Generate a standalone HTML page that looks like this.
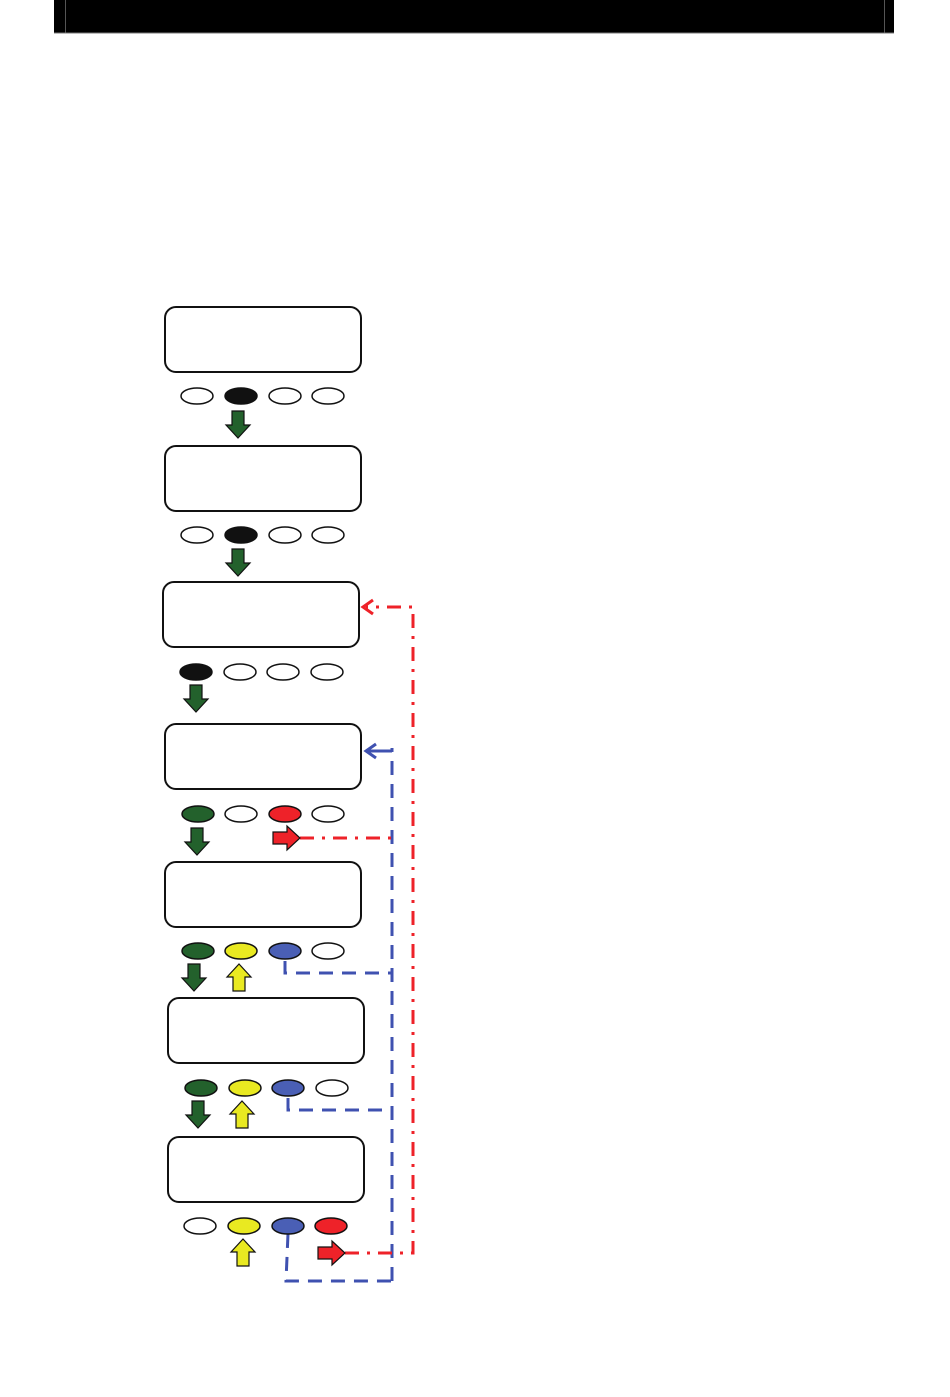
<!DOCTYPE html>
<html><head><meta charset="utf-8"><style>
html,body{margin:0;padding:0;background:#fff;}
svg{display:block;}
</style></head><body>
<svg width="950" height="1397" viewBox="0 0 950 1397" xmlns="http://www.w3.org/2000/svg">
<defs>
<path id="dn" d="M-6,0 H6 V14 H12 L0,27 L-12,14 H-6 Z"/>
<path id="up" d="M-6,27 H6 V13 H12 L0,0 L-12,13 H-6 Z"/>
<path id="rt" d="M0,-6 V6 H14 V12 L27,0 L14,-12 V-6 Z"/>
</defs>
<rect x="54" y="0" width="840" height="33" fill="#000"/>
<line x1="65.5" y1="0" x2="65.5" y2="33" stroke="#555" stroke-width="1"/>
<line x1="884.5" y1="0" x2="884.5" y2="33" stroke="#555" stroke-width="1"/>
<line x1="54" y1="33" x2="894" y2="33" stroke="#777" stroke-width="1"/>

<g fill="#fff" stroke="#111" stroke-width="2">
<rect x="165" y="307" width="196" height="65" rx="11"/>
<rect x="165" y="446" width="196" height="65" rx="11"/>
<rect x="163" y="582" width="196" height="65" rx="11"/>
<rect x="165" y="724" width="196" height="65" rx="11"/>
<rect x="165" y="862" width="196" height="65" rx="11"/>
<rect x="168" y="998" width="196" height="65" rx="11"/>
<rect x="168" y="1137" width="196" height="65" rx="11"/>
</g>

<!-- dashed connectors -->
<g fill="none" stroke-width="3">
<path d="M285,961 V973 H392" stroke="#3f51b0" stroke-dasharray="14,9"/>
<path d="M288,1098 V1110 H392" stroke="#3f51b0" stroke-dasharray="14,9"/>
<path d="M288,1234 L286,1281 H392" stroke="#3f51b0" stroke-dasharray="14,9"/>
<path d="M392,1281 V748" stroke="#3f51b0" stroke-dasharray="14,9"/>
<path d="M392,751 H368" stroke="#3f51b0"/>
<path d="M300,838 H395" stroke="#ee2229" stroke-dasharray="14,8,3,8"/>
<path d="M345,1253 H413 V607 H366" stroke="#ee2229" stroke-dasharray="14,8,3,8"/>
</g>
<path d="M376,744 L366,751 L376,758" fill="none" stroke="#3f51b0" stroke-width="3"/>
<path d="M373,600 L363,607 L373,614" fill="none" stroke="#ee2229" stroke-width="3"/>

<g stroke="#111" stroke-width="1.5">
<ellipse cx="197" cy="396" rx="16" ry="8" fill="#fff"/>
<ellipse cx="241" cy="396" rx="16" ry="8" fill="#111"/>
<ellipse cx="285" cy="396" rx="16" ry="8" fill="#fff"/>
<ellipse cx="328" cy="396" rx="16" ry="8" fill="#fff"/>

<ellipse cx="197" cy="535" rx="16" ry="8" fill="#fff"/>
<ellipse cx="241" cy="535" rx="16" ry="8" fill="#111"/>
<ellipse cx="285" cy="535" rx="16" ry="8" fill="#fff"/>
<ellipse cx="328" cy="535" rx="16" ry="8" fill="#fff"/>

<ellipse cx="196" cy="672" rx="16" ry="8" fill="#111"/>
<ellipse cx="240" cy="672" rx="16" ry="8" fill="#fff"/>
<ellipse cx="283" cy="672" rx="16" ry="8" fill="#fff"/>
<ellipse cx="327" cy="672" rx="16" ry="8" fill="#fff"/>

<ellipse cx="198" cy="814" rx="16" ry="8" fill="#23612c"/>
<ellipse cx="241" cy="814" rx="16" ry="8" fill="#fff"/>
<ellipse cx="285" cy="814" rx="16" ry="8" fill="#ee2229"/>
<ellipse cx="328" cy="814" rx="16" ry="8" fill="#fff"/>

<ellipse cx="198" cy="951" rx="16" ry="8" fill="#23612c"/>
<ellipse cx="241" cy="951" rx="16" ry="8" fill="#e9e921"/>
<ellipse cx="285" cy="951" rx="16" ry="8" fill="#4a5fb5"/>
<ellipse cx="328" cy="951" rx="16" ry="8" fill="#fff"/>

<ellipse cx="201" cy="1088" rx="16" ry="8" fill="#23612c"/>
<ellipse cx="245" cy="1088" rx="16" ry="8" fill="#e9e921"/>
<ellipse cx="288" cy="1088" rx="16" ry="8" fill="#4a5fb5"/>
<ellipse cx="332" cy="1088" rx="16" ry="8" fill="#fff"/>

<ellipse cx="200" cy="1226" rx="16" ry="8" fill="#fff"/>
<ellipse cx="244" cy="1226" rx="16" ry="8" fill="#e9e921"/>
<ellipse cx="288" cy="1226" rx="16" ry="8" fill="#4a5fb5"/>
<ellipse cx="331" cy="1226" rx="16" ry="8" fill="#ee2229"/>
</g>

<g stroke="#111" stroke-width="1.2" stroke-linejoin="miter">
<use href="#dn" x="238" y="411" fill="#23612c"/>
<use href="#dn" x="238" y="549" fill="#23612c"/>
<use href="#dn" x="196" y="685" fill="#23612c"/>
<use href="#dn" x="197" y="828" fill="#23612c"/>
<use href="#rt" x="273" y="838" fill="#ee2229"/>
<use href="#dn" x="194" y="964" fill="#23612c"/>
<use href="#up" x="239" y="964" fill="#e9e921"/>
<use href="#dn" x="198" y="1101" fill="#23612c"/>
<use href="#up" x="242" y="1101" fill="#e9e921"/>
<use href="#up" x="243" y="1239" fill="#e9e921"/>
<use href="#rt" x="318" y="1253" fill="#ee2229"/>
</g>
</svg>
</body></html>
